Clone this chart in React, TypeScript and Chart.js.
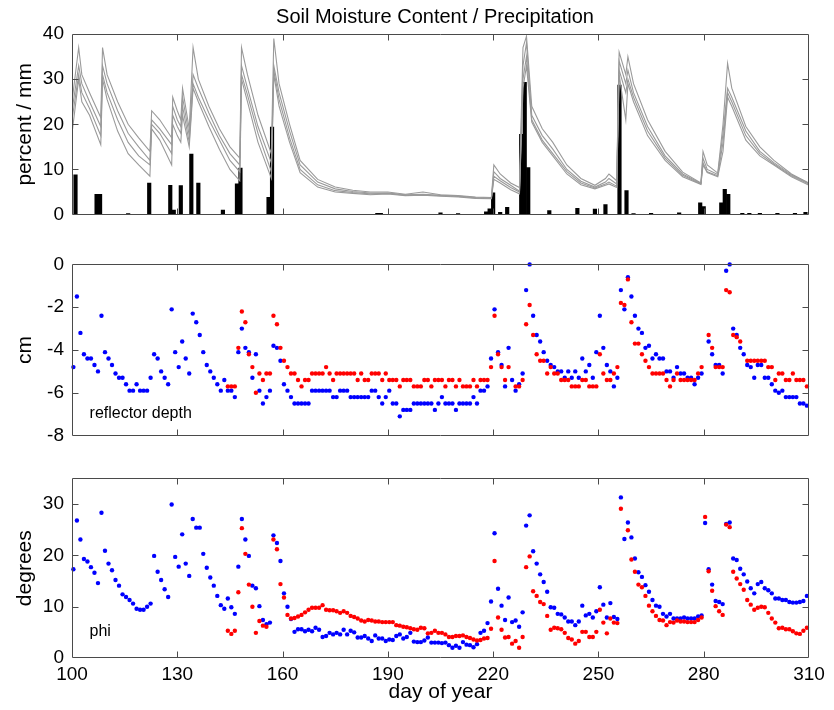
import React, { useEffect, useRef } from 'react';
import { Chart, registerables } from 'chart.js';

Chart.register(...registerables);

const FONT = '"Liberation Sans", Arial, Helvetica, sans-serif';

// ---------- axis ticks ----------
const xTicks = [100, 130, 160, 190, 220, 250, 280, 310];
const smTicks = [0, 10, 20, 30, 40];
const depthTicks = [-8, -6, -4, -2, 0];
const phiTicks = [0, 10, 20, 30];

// ---------- precipitation (mm) ----------
const rainDays = [101, 107, 108, 116, 122, 128, 129, 131, 134, 136, 143, 147, 148, 156, 157, 187, 188, 205, 210, 218, 219, 220, 222, 224, 228, 229, 230, 236, 244, 249, 252, 256, 258, 260, 265, 273, 279, 280, 285, 286, 287, 291, 293, 296, 301, 306, 309];
const rainMm = [8.8, 4.5, 4.5, 0.2, 7.0, 6.5, 1.0, 6.4, 13.4, 7.0, 1.0, 6.8, 10.3, 3.8, 19.4, 0.3, 0.3, 0.4, 0.2, 0.6, 1.3, 4.8, 0.5, 1.6, 17.8, 29.3, 10.4, 0.9, 1.4, 1.2, 2.2, 28.7, 5.3, 0.2, 0.3, 0.4, 2.6, 1.8, 2.6, 5.6, 4.5, 0.3, 0.3, 0.3, 0.3, 0.3, 0.5];

// ---------- soil moisture (percent), four sensors ----------
const smDays = [100, 101.9, 102.8, 105, 108.2, 108.7, 110, 113, 116, 119, 122.2, 122.7, 125, 128.4, 128.7, 130, 131, 131.5, 133.4, 134.5, 136, 139, 142, 145, 147.8, 148.3, 150, 153, 156.8, 157.5, 159, 162, 165, 170, 175, 180, 185, 190, 195, 200, 205, 210, 215, 219.5, 220.2, 222, 225, 227.5, 228.5, 229.5, 231, 234, 237, 241, 245, 249, 252, 253, 255.2, 255.9, 257.8, 258.4, 260, 264, 269, 274, 279.2, 279.8, 281, 284, 285.5, 286.8, 288, 292, 296, 300, 305, 310];
const smA = [25, 37, 31, 27, 21.5, 37, 31, 25, 20, 17, 14, 23, 21, 17, 26, 23, 21, 28, 19, 37, 30, 24, 19, 15, 12.5, 37, 31, 22, 13.5, 39, 29, 20, 12, 7.8, 6.1, 5.4, 5.0, 5.0, 4.5, 5.0, 4.4, 4.2, 3.9, 3.8, 11, 9, 7, 6, 37, 39.5, 24, 19, 16, 11, 8, 6.5, 8, 9, 7.5, 36, 31, 35, 29, 21, 14, 9.4, 7, 14, 11, 9.2, 20, 33.5, 28, 19.5, 15, 12, 9, 7];
const smB = [23, 33, 29, 25, 19.5, 33, 29, 23, 18, 15, 12, 21, 19, 15.5, 24, 21, 19.5, 26, 17.5, 31, 28, 22.5, 17.5, 13.5, 11, 33, 28, 19.5, 11.5, 33, 27, 18.5, 11, 7.2, 5.7, 5.1, 4.8, 4.8, 4.4, 4.5, 4.3, 4.1, 3.8, 3.7, 9.5, 8, 6.5, 5.2, 33, 38, 22, 17.5, 14.5, 10, 7.4, 6.1, 7.2, 8, 6.8, 34, 29, 32, 27, 19.5, 13, 9, 6.9, 12.5, 10, 8.9, 18, 28, 26, 18.5, 14, 11.5, 8.8, 6.9];
const smC = [21, 31, 27, 23.5, 17.5, 31, 27, 21, 16, 13, 11, 20, 18, 13.5, 22, 19.5, 18, 24, 16, 29, 26, 21, 16.5, 12, 9.5, 31, 26.5, 18, 9.5, 32, 25.5, 17, 10, 6.6, 5.3, 4.9, 4.6, 4.7, 4.3, 4.4, 4.2, 4.0, 3.7, 3.6, 8.5, 7.5, 6, 5, 30, 35, 21, 16.5, 13.5, 9.5, 7, 5.9, 6.8, 7.2, 6.3, 32, 27, 30, 26, 18.5, 12.5, 8.7, 6.8, 11.5, 9.5, 8.6, 16, 27, 25, 17.5, 13.5, 11.2, 8.6, 6.7];
const smD = [18, 30, 25, 22, 15.5, 30, 25.5, 18.5, 13.5, 11, 8.5, 19, 16.5, 11, 20, 17.5, 16, 22, 15, 28, 25, 19.5, 14.5, 10, 7.5, 30, 25, 16, 8, 31, 24, 16, 9.3, 6.1, 5.0, 4.7, 4.4, 4.6, 4.2, 4.3, 4.1, 3.9, 3.6, 3.5, 7.8, 7, 5.5, 4.6, 28, 33, 20.5, 16, 13, 9, 6.6, 5.7, 6.5, 6.8, 6, 31, 21, 29, 25, 17.5, 12, 8.4, 6.7, 11, 9.3, 8.4, 14, 26, 24, 16.5, 13, 11, 8.4, 6.5];

// ---------- reflector depth (cm), one value per day ----------
const depthBlueStart = 100;
const depthBlue = [
  -4.8, -1.5, -3.2, -4.2, -4.4, -4.4, -4.7, -5.0, -2.4, -4.1,
  -4.4, -4.7, -5.1, -5.3, -5.3, -5.6, -5.9, -5.9, -5.6, -5.9,
  -5.9, -5.9, -5.3, -4.2, -4.4, -5.0, -5.3, -5.6, -2.1, -4.1,
  -4.8, -3.6, -4.4, -5.1, -2.3, -2.7, -3.3, -4.1, -4.7, -5.0,
  -5.3, -5.6, -5.9, -5.4, -5.9, -5.9, -6.2, -4.1, -3.0, -3.9,
  -4.1, -5.3, -4.2, -5.9, -6.5, -6.2, -5.9, -3.8, -3.9, -4.5,
  -5.6, -5.9, -6.2, -6.5, -6.5, -6.5, -6.5, -6.5, -5.9, -5.9,
  -5.9, -5.9, -5.9, -5.9, -6.2, -6.2, -5.9, -5.9, -5.9, -6.2,
  -6.2, -6.2, -6.2, -6.2, -6.2, -5.9, -5.9, -6.2, -6.5, -6.2,
  -5.9, -6.5, -6.5, -7.1, -6.8, -6.8, -6.8, -6.5, -6.5, -6.5,
  -6.5, -6.5, -6.5, -6.8, -6.5, -6.2, -6.5, -6.5, -6.5, -6.8,
  -6.5, -6.5, -6.5, -6.5, -6.2, -6.5, -5.9, -5.9, -5.7, -4.4,
  -2.1, -4.1, -4.7, -5.7, -3.9, -5.4, -5.9, -5.6, -5.1, -1.2,
  0.0, -2.4, -3.3, -3.6, -4.1, -4.5, -4.7, -4.8, -5.0, -5.0,
  -5.3, -5.0, -5.3, -5.0, -5.3, -4.4, -5.0, -4.7, -5.3, -4.1,
  -2.4, -3.9, -4.7, -5.0, -5.7, -5.3, -1.2, -2.1, -0.6, -1.5,
  -2.4, -3.0, -3.2, -3.9, -3.8, -4.4, -4.2, -4.4, -4.4, -5.0,
  -5.0, -5.3, -4.8, -5.1, -5.1, -5.3, -5.3, -5.6, -5.3, -5.1,
  null, -3.6, -4.2, -4.7, -4.7, -5.1, -0.3, 0.0, -3.0, -3.3,
  -3.9, -4.2, -4.7, -4.8, -5.3, -4.7, -4.7, -5.3, -5.3, -5.6,
  -5.9, -6.0, -5.9, -6.2, -6.2, -6.2, -6.2, -6.5, -6.5, -6.6,
];
const depthRedStart = 144;
const depthRed = [
  -5.7, -5.7, -5.7, -3.9, -2.2, -2.7, -4.2, -4.8, -6.0, -5.1,
  -5.4, -5.1, -5.1, -2.4, -2.8, -3.9, -4.5, -4.8, -5.1, -5.1,
  -5.4, -5.7, -5.4, -5.4, -5.1, -5.1, -5.1, -5.1, -4.8, -5.1,
  -5.4, -5.1, -5.1, -5.1, -5.1, -5.1, -5.1, -5.4, -5.1, -5.4,
  -5.4, -5.1, -5.1, -5.1, -5.4, -5.1, -5.4, -5.4, -5.4, -5.7,
  -5.4, -5.4, -5.4, -5.7, -5.7, -5.7, -5.4, -5.4, -5.7, -5.4,
  -5.4, -5.4, -5.7, -5.4, -5.4, -5.7, -5.4, -5.7, -5.7, -5.7,
  -5.4, -5.7, -5.4, -5.4, -5.4, -4.8, -2.4, -4.2, -4.8, -5.4,
  -4.8, null, -5.7, -5.7, -5.4, -2.8, -1.9, -3.3, -4.2, -4.5,
  -4.5, -5.1, -4.8, -5.1, -5.1, -5.4, -5.4, -5.4, -5.7, -5.7,
  -5.7, -5.4, -5.4, -5.7, -5.7, -5.7, -4.2, -5.1, -5.4, -5.4,
  -5.1, -4.8, -1.8, -1.9, -0.7, -2.7, -3.7, -3.7, -4.2, -4.5,
  -4.8, -5.1, -5.1, -5.1, -5.1, -5.4, -5.7, -5.4, -5.1, -5.4,
  -5.4, -5.4, -5.4, -5.4, -5.1, -4.8, null, -3.3, -3.9, -4.8,
  -4.8, -4.8, -1.2, -1.3, -3.3, -3.4, -3.6, null, -4.5, -4.5,
  -4.5, -4.5, -4.5, -4.5, -4.8, -4.8, -5.4, -5.1, -5.1, -5.4,
  -5.4, -5.1, -5.4, -5.4, -5.4, -5.7,
];

// ---------- phi (degrees), one value per day ----------
const phiBlueStart = 100;
const phiBlue = [
  17.3, 26.8, 23.1, 19.3, 18.8, 17.7, 16.6, 14.6, 28.3, 20.9,
  18.4, 17.1, 15.2, 14.1, 12.4, 11.9, 11.3, 10.6, 9.6, 9.4,
  9.4, 10.0, 10.6, 19.9, 16.8, 15.2, 13.4, 11.9, 29.9, 19.7,
  17.8, 24.1, 18.4, 16.0, 27.1, 25.4, 25.4, 20.3, 17.6, 15.7,
  14.1, 12.1, 10.3, 9.6, 11.6, 9.9, 8.6, 17.8, 27.1, 23.1,
  19.9, 14.1, 13.6, 10.1, 7.4, 6.6, 6.9, 23.9, 22.4, 18.9,
  12.6, 10.0, 7.6, 5.1, 5.6, 5.6, 5.2, 5.5, 5.2, 5.9,
  5.5, 4.1, 4.3, 4.9, 4.6, 4.9, 4.6, 5.5, 4.6, 5.3,
  5.0, 4.0, 4.0, 4.3, 3.8, 3.3, 4.4, 3.8, 3.8, 3.3,
  3.6, 3.5, 4.3, 4.6, 3.8, 4.1, 4.9, 3.2, 3.1, 3.1,
  3.4, 4.0, 3.0, 3.0, 3.0, 2.9, 3.0, 2.5, 2.0, 2.4,
  2.0, 3.1, 2.6, 2.5, 2.1, 2.7, 4.9, 5.3, 6.8, 11.0,
  24.3, 13.5, 10.2, 7.4, 11.8, 7.0, 7.3, 6.1, 8.9, 25.8,
  27.8, 20.8, 18.4, 16.3, 14.8, 12.9, 9.9, 9.8, 8.6, 8.5,
  7.9, 7.1, 7.1, 6.4, 7.1, 10.2, 8.3, 8.6, 7.9, 9.1,
  13.8, 10.4, 7.9, 10.7, 8.0, 7.6, 31.3, 23.2, 26.4, 23.5,
  19.4, 16.7, 15.8, 14.2, 12.9, 11.3, 10.2, 10.0, 8.6, 8.1,
  8.6, 7.7, 7.7, 7.7, 7.9, 7.7, 7.7, 7.7, 8.1, 8.3,
  26.3, 17.3, 14.3, 11.1, 10.9, 10.5, 26.1, 26.4, 19.4, 19.1,
  17.4, 16.3, 14.9, 13.6, 12.6, 14.4, 14.8, 13.6, 13.2, 12.6,
  11.6, 11.6, 11.3, 11.3, 10.9, 10.8, 10.8, 10.9, 11.1, 12.1,
];
const phiRedStart = 144;
const phiRed = [
  5.3, 4.7, 5.3, 12.8, 25.3, 20.3, 14.3, 10.0, 4.9, 7.2,
  6.3, 6.1, null, 23.1, 21.2, 14.4, 11.8, 8.4, 7.7, 7.8,
  8.1, 8.4, 8.9, 9.4, 9.8, 9.8, 9.8, 10.3, 9.4, 9.3,
  9.3, 9.1, 8.8, 9.1, 8.8, 8.2, 8.0, 7.7, 7.3, 7.1,
  7.4, 7.3, 7.1, 7.1, 7.0, 7.0, 7.0, 7.0, 6.4, 6.3,
  6.1, 6.0, 5.8, 5.6, 5.5, 5.9, 5.8, 4.8, 4.9, 5.3,
  4.9, 4.9, 4.6, 4.1, 4.1, 4.3, 4.3, 4.4, 4.1, 3.9,
  3.6, 3.4, 3.5, 3.8, 3.9, 5.7, 18.9, 7.9, 5.5, 4.0,
  4.1, 2.8, 3.3, 2.0, 4.1, 17.7, 19.8, 13.0, 12.1, 10.9,
  10.5, 8.2, 5.5, 5.9, 5.8, 5.6, 4.9, 3.9, 3.6, 2.8,
  3.3, 5.1, 5.1, 4.1, 4.1, 5.1, 9.4, 6.9, 4.8, 7.7,
  6.9, 6.8, 29.1, null, 24.9, 19.2, 16.8, 14.3, 13.8, 12.1,
  10.2, 9.1, 8.2, 7.4, 7.3, 6.4, 7.0, 6.9, 7.3, 7.1,
  7.1, 7.0, 7.0, 7.0, 7.4, 7.9, 27.5, 16.9, 13.1, 10.1,
  9.1, 8.4, 26.0, 25.5, 16.8, 15.5, 14.4, 13.3, 11.3, 10.4,
  9.4, 9.8, 10.0, 9.9, 8.8, 7.7, 6.9, 5.8, 5.9, 5.6,
  5.6, 5.2, 4.8, 4.7, 5.3, 5.9,
];

// ---------- helpers ----------
const DAY_OFFSET = 0.4;
function dailyPoints(start: number, vals: (number | null)[]) {
  const out: { x: number; y: number }[] = [];
  vals.forEach((v, i) => {
    if (v !== null) out.push({ x: start + i + DAY_OFFSET, y: v });
  });
  return out;
}

const framePlugin = {
  id: 'frame',
  afterDatasetsDraw(chart: any, _args: any, opts: any) {
    const { ctx, chartArea: a, scales } = chart;
    const L = Math.round(a.left) + 0.5;
    const R = Math.round(a.right) - 0.5;
    const T = Math.round(a.top) + 0.5;
    const B = Math.round(a.bottom) - 0.5;
    const tl = 6;
    ctx.save();
    ctx.strokeStyle = '#4a4a4a';
    ctx.lineWidth = 1;
    ctx.beginPath();
    ctx.rect(L, T, R - L, B - T);
    for (const t of scales.x.ticks) {
      const px = Math.round(scales.x.getPixelForValue(t.value)) + 0.5;
      if (px <= L + 1 || px >= R - 1) continue;
      ctx.moveTo(px, B);
      ctx.lineTo(px, B - tl);
      ctx.moveTo(px, T);
      ctx.lineTo(px, T + tl);
    }
    for (const t of scales.y.ticks) {
      const py = Math.round(scales.y.getPixelForValue(t.value)) + 0.5;
      if (py <= T + 1 || py >= B - 1) continue;
      ctx.moveTo(L, py);
      ctx.lineTo(L + tl, py);
      ctx.moveTo(R, py);
      ctx.lineTo(R - tl, py);
    }
    ctx.stroke();
    ctx.fillStyle = '#000';
    if (opts && opts.note) {
      ctx.font = `16px ${FONT}`;
      ctx.textAlign = 'left';
      ctx.textBaseline = 'alphabetic';
      ctx.fillText(opts.note.text, scales.x.getPixelForValue(opts.note.x), scales.y.getPixelForValue(opts.note.y));
    }
    if (opts && opts.heading) {
      ctx.font = `20px ${FONT}`;
      ctx.textAlign = 'center';
      ctx.textBaseline = 'middle';
      ctx.fillText(opts.heading.text, opts.heading.x, opts.heading.y);
    }
    ctx.restore();
  },
};

function xScale(showLabels: boolean) {
  return {
    type: 'linear',
    min: 100,
    max: 310,
    offset: false,
    grid: { display: false, drawTicks: false },
    border: { display: false },
    ticks: {
      display: showLabels,
      font: { family: FONT, size: 19 },
      color: '#000',
      padding: 5,
      maxRotation: 0,
      autoSkip: false,
    },
    afterBuildTicks: (s: any) => {
      s.ticks = xTicks.map((v) => ({ value: v }));
    },
    afterFit: (s: any) => {
      s.height = showLabels ? 52 : 12;
    },
    title: {
      display: showLabels,
      text: 'day of year',
      font: { family: FONT, size: 21 },
      color: '#000',
      padding: { top: 0, bottom: 5.4 },
    },
  };
}

function yScale(min: number, max: number, ticks: number[], title: string) {
  return {
    type: 'linear',
    position: 'left',
    min,
    max,
    grid: { display: false, drawTicks: false },
    border: { display: false },
    ticks: { font: { family: FONT, size: 19 }, color: '#000', padding: 8 },
    afterBuildTicks: (s: any) => {
      s.ticks = ticks.map((v) => ({ value: v }));
    },
    afterFit: (s: any) => {
      s.width = 72;
    },
    title: {
      display: true,
      text: title,
      font: { family: FONT, size: 21 },
      color: '#000',
      padding: { top: 12.4, bottom: 0 },
    },
  };
}

function basePlugins(extra: any) {
  return {
    legend: { display: false },
    tooltip: { enabled: false },
    title: { display: false },
    frame: extra,
  };
}

function dotSet(data: any[], color: string) {
  return {
    type: 'scatter',
    data,
    showLine: false,
    pointRadius: 2.2,
    pointBorderWidth: 0,
    pointBackgroundColor: color,
    pointBorderColor: color,
    clip: false,
  };
}

export default function App() {
  const r1 = useRef<HTMLCanvasElement>(null);
  const r2 = useRef<HTMLCanvasElement>(null);
  const r3 = useRef<HTMLCanvasElement>(null);

  useEffect(() => {
    const lineSeries = [smA, smB, smC, smD].map((vals) => ({
      type: 'line',
      data: smDays.map((d, i) => ({ x: d, y: vals[i] })),
      borderColor: '#9a9a9a',
      borderWidth: 1.1,
      pointRadius: 0,
      tension: 0,
      fill: false,
    }));
    const top = new Chart(r1.current as HTMLCanvasElement, {
      type: 'line',
      data: {
        datasets: [
          ...lineSeries,
          {
            type: 'bar',
            data: rainDays.map((d, i) => ({ x: d, y: rainMm[i] })),
            backgroundColor: '#000',
            borderWidth: 0,
            barPercentage: 1,
            categoryPercentage: 1,
          },
        ] as any,
      },
      options: {
        animation: false,
        responsive: false,
        devicePixelRatio: 1,
        events: [],
        layout: { padding: { left: 0, right: 25, top: 34, bottom: 0 } },
        scales: { x: xScale(false), y: yScale(0, 40, smTicks, 'percent / mm') } as any,
        plugins: basePlugins({ heading: { text: 'Soil Moisture Content / Precipitation', x: 435, y: 17 } }) as any,
      },
      plugins: [framePlugin],
    });

    const mid = new Chart(r2.current as HTMLCanvasElement, {
      type: 'scatter',
      data: {
        datasets: [
          dotSet(dailyPoints(depthRedStart, depthRed), '#ff0000'),
          dotSet(dailyPoints(depthBlueStart, depthBlue), '#0000ff'),
        ] as any,
      },
      options: {
        animation: false,
        responsive: false,
        devicePixelRatio: 1,
        events: [],
        layout: { padding: { left: 0, right: 25, top: 12, bottom: 0 } },
        scales: { x: xScale(false), y: yScale(-8, 0, depthTicks, 'cm') } as any,
        plugins: basePlugins({ note: { text: 'reflector depth', x: 105, y: -7.18 } }) as any,
      },
      plugins: [framePlugin],
    });

    const bot = new Chart(r3.current as HTMLCanvasElement, {
      type: 'scatter',
      data: {
        datasets: [
          dotSet(dailyPoints(phiRedStart, phiRed), '#ff0000'),
          dotSet(dailyPoints(phiBlueStart, phiBlue), '#0000ff'),
        ] as any,
      },
      options: {
        animation: false,
        responsive: false,
        devicePixelRatio: 1,
        events: [],
        layout: { padding: { left: 0, right: 25, top: 12, bottom: 0 } },
        scales: { x: xScale(true), y: yScale(0, 35, phiTicks, 'degrees') } as any,
        plugins: basePlugins({ note: { text: 'phi', x: 105, y: 4.3 } }) as any,
      },
      plugins: [framePlugin],
    });

    return () => {
      top.destroy();
      mid.destroy();
      bot.destroy();
    };
  }, []);

  const cs = (top: number, h: number): React.CSSProperties => ({
    position: 'absolute',
    left: 0,
    top,
    width: 834,
    height: h,
    display: 'block',
  });

  return (
    <div style={{ position: 'absolute', left: 0, top: 0, width: 834, height: 710, background: '#fff', overflow: 'hidden' }}>
      <canvas ref={r1} width={834} height={234} style={cs(0, 234)} />
      <canvas ref={r2} width={834} height={210} style={cs(245, 210)} />
      <canvas ref={r3} width={834} height={251} style={cs(459, 251)} />
    </div>
  );
}
